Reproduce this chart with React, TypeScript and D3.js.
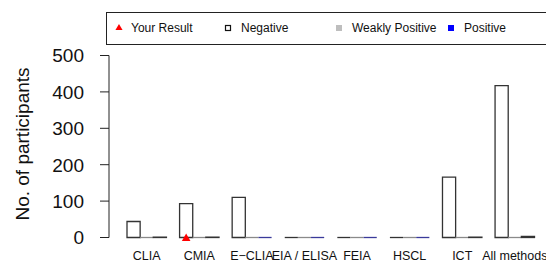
import React, { useEffect, useRef } from 'react';
import * as d3 from 'd3';

const methods = ['CLIA', 'CMIA', 'E\u2212CLIA', 'EIA / ELISA', 'FEIA', 'HSCL', 'ICT', 'All methods'];
const negative = [44, 93, 110, 0, 0, 0, 166, 417];
const weaklyPositive = [0, 0, 0, 0, 0, 0, 0, 0];
const positive = [1, 1, 0, 0, 0, 0, 1, 3];
const series = ['Negative', 'Weakly Positive', 'Positive'];
const yTicks = [0, 100, 200, 300, 400, 500];
const yourResultMethod = 'CMIA';
const yourResultValue = 0;

const App = () => {
  const svgRef = useRef<SVGSVGElement>(null);

  useEffect(() => {
    const svg = d3.select(svgRef.current);
    svg.selectAll('*').remove();

    const font = 'Liberation Sans, Arial, Helvetica, sans-serif';
    const fills = ['#ffffff', '#bebebe', '#0000ff'];
    const values = [negative, weaklyPositive, positive];

    const x = d3.scaleBand().domain(methods).range([127, 534.5]).paddingInner(0.25).paddingOuter(0);
    const xs = d3.scaleBand().domain(series).range([0, x.bandwidth()]);
    const y = d3.scaleLinear().domain([0, 500]).range([237.5, 55.5]);

    // bars (paths so zero-height bars still show their outline)
    const groups = svg
      .append('g')
      .selectAll('g')
      .data(methods)
      .join('g')
      .attr('transform', (d) => `translate(${x(d)},0)`);

    groups
      .selectAll('path')
      .data((d, i) => series.map((s, k) => ({ s, k, v: values[k][i] })))
      .join('path')
      .attr('d', (d) => {
        const x0 = xs(d.s)!;
        const x1 = x0 + xs.bandwidth();
        if (d.v === 0) return `M${x0},${y(0)}H${x1}`;
        return `M${x0},${y(0)}V${y(d.v)}H${x1}V${y(0)}Z`;
      })
      .attr('fill', (d) => fills[d.k])
      .attr('stroke', (d) => (d.v === 0 && d.k > 0 ? (d.k === 2 ? '#3a3a9a' : '#8a8a8a') : '#333'))
      .attr('stroke-width', 1.3);

    // y axis (R style)
    const ax = svg.append('g').attr('stroke', '#222').attr('stroke-width', 1);
    ax.append('line').attr('x1', 109).attr('x2', 109).attr('y1', y(500)).attr('y2', y(0));
    ax.selectAll('line.t')
      .data(yTicks)
      .join('line')
      .attr('class', 't')
      .attr('x1', 100)
      .attr('x2', 109)
      .attr('y1', (d) => y(d))
      .attr('y2', (d) => y(d));

    svg
      .append('g')
      .selectAll('text')
      .data(yTicks)
      .join('text')
      .attr('x', 84)
      .attr('y', (d) => y(d))
      .attr('dy', '0.36em')
      .attr('text-anchor', 'end')
      .attr('font-family', font)
      .attr('font-size', 19)
      .attr('fill', '#111')
      .text((d) => d);

    svg
      .append('text')
      .attr('transform', `translate(29,144) rotate(-90)`)
      .attr('text-anchor', 'middle')
      .attr('font-family', font)
      .attr('font-size', 19)
      .attr('fill', '#111')
      .text('No. of participants');

    // x labels
    svg
      .append('g')
      .selectAll('text')
      .data(methods)
      .join('text')
      .attr('x', (d) => x(d)! + x.bandwidth() / 2)
      .attr('y', 260)
      .attr('text-anchor', 'middle')
      .attr('font-family', font)
      .attr('font-size', 12.5)
      .attr('fill', '#111')
      .text((d) => d);

    // your result marker
    const tx = x(yourResultMethod)! + xs('Negative')! + xs.bandwidth() / 2;
    const ty = y(yourResultValue) + 1;
    svg
      .append('path')
      .attr('d', d3.symbol(d3.symbolTriangle, 32)())
      .attr('transform', `translate(${tx},${ty})`)
      .attr('fill', '#ff0000');

    // legend
    const lg = svg.append('g');
    lg.append('rect')
      .attr('x', 106.5)
      .attr('y', 12.5)
      .attr('width', 460)
      .attr('height', 32)
      .attr('fill', 'white')
      .attr('stroke', '#222')
      .attr('stroke-width', 1);

    const items = [
      { label: 'Your Result', sx: 119, tx: 131 },
      { label: 'Negative', sx: 228, tx: 241 },
      { label: 'Weakly Positive', sx: 339, tx: 352 },
      { label: 'Positive', sx: 451, tx: 464 },
    ];
    lg.append('path')
      .attr('d', d3.symbol(d3.symbolTriangle, 22)())
      .attr('transform', `translate(${items[0].sx},28)`)
      .attr('fill', '#ff0000');
    lg.append('rect').attr('x', items[1].sx - 2.5).attr('y', 25.5).attr('width', 5).attr('height', 5)
      .attr('fill', 'white').attr('stroke', '#111').attr('stroke-width', 1.2);
    lg.append('rect').attr('x', items[2].sx - 3).attr('y', 25).attr('width', 6).attr('height', 6).attr('fill', '#bebebe');
    lg.append('rect').attr('x', items[3].sx - 3).attr('y', 25).attr('width', 6).attr('height', 6).attr('fill', '#0000ff');

    lg.selectAll('text')
      .data(items)
      .join('text')
      .attr('x', (d) => d.tx)
      .attr('y', 28)
      .attr('dy', '0.36em')
      .attr('font-family', font)
      .attr('font-size', 12)
      .attr('fill', '#111')
      .text((d) => d.label);
  }, []);

  return <svg ref={svgRef} width={546} height={262} style={{ position: 'absolute', left: 0, top: 0 }} />;
};

export default App;
